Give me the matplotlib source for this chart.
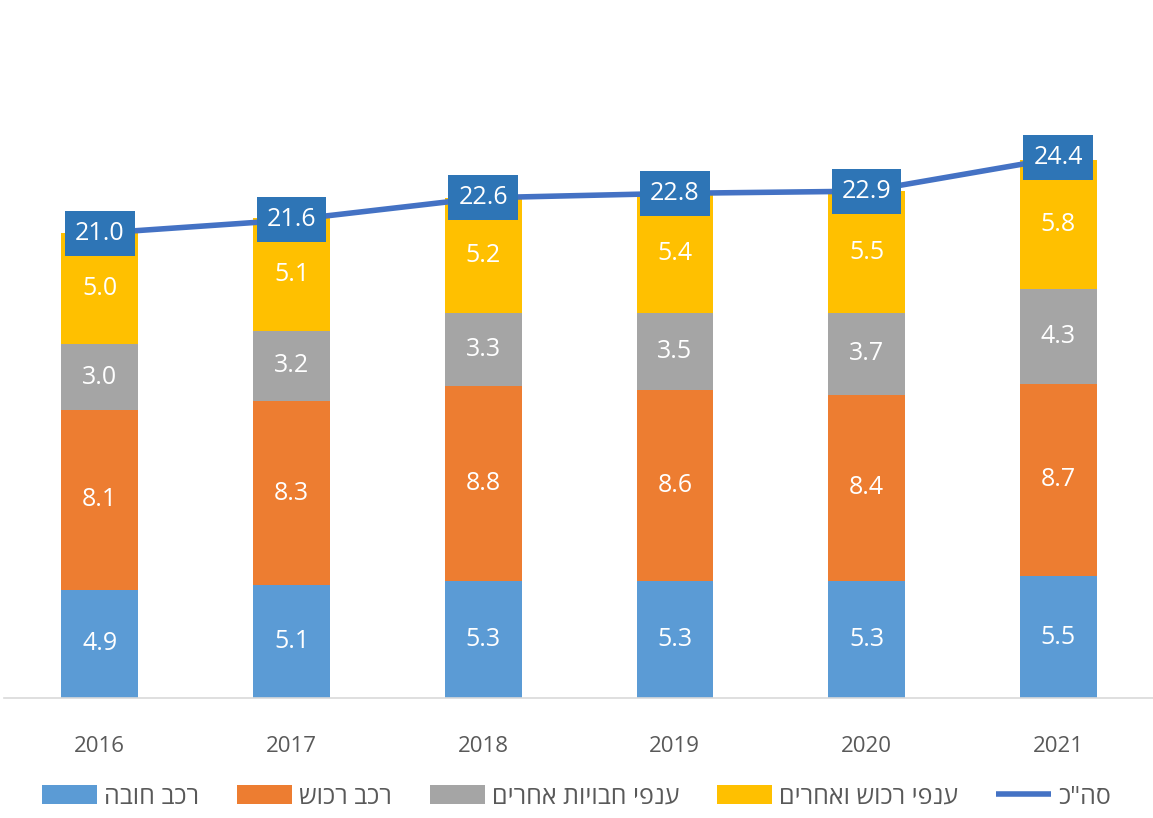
import matplotlib
matplotlib.use("Agg")
import matplotlib.pyplot as plt
import numpy as np

years = ["2016", "2017", "2018", "2019", "2020", "2021"]
mandatory = [4.9, 5.1, 5.3, 5.3, 5.3, 5.5]
property_auto = [8.1, 8.3, 8.8, 8.6, 8.4, 8.7]
other_liab = [3.0, 3.2, 3.3, 3.5, 3.7, 4.3]
other_prop = [5.0, 5.1, 5.2, 5.4, 5.5, 5.8]
totals = [21.0, 21.6, 22.6, 22.8, 22.9, 24.4]

names = ["רכב חובה", "רכב רכוש", "ענפי חבויות אחרים", "ענפי רכוש ואחרים", 'סה"כ']
colors = ["#5B9BD5", "#ED7D31", "#A5A5A5", "#FFC000"]
line_color = "#4472C4"
box_color = "#2E75B6"

def heb(s):
    return s[::-1]

plt.rcParams['font.family'] = ['Open Sans', 'DejaVu Sans']

fig = plt.figure(figsize=(11.53, 8.18), dpi=100)
ax = fig.add_axes([4/1153, 120/818, 1150/1153, (698-34)/818])

x = np.arange(len(years))
series = [mandatory, property_auto, other_liab, other_prop]
bottom = np.zeros(len(years))
handles = []
for vals, c, n in zip(series, colors, names[:4]):
    b = ax.bar(x, vals, 0.4, bottom=bottom, color=c, label=heb(n), zorder=2)
    handles.append(b)
    for xi, v, bt in zip(x, vals, bottom):
        ax.text(xi, bt + v/2, f"{v:.1f}", ha="center", va="center",
                color="white", fontsize=18, zorder=4)
    bottom = bottom + np.array(vals)

ln, = ax.plot(x, totals, color=line_color, lw=4, label=heb(names[4]), zorder=3,
              solid_capstyle="butt")
handles.append(ln)
for xi, t in zip(x, totals):
    ax.text(xi, t, f"{t:.1f}", ha="center", va="center", color="white",
            fontsize=18, zorder=5,
            bbox=dict(boxstyle="square,pad=0.4", fc=box_color, ec="none"))

ax.set_xlim(-0.5, 5.5)
ax.set_ylim(0, 30)
ax.set_xticks(x)
ax.set_xticklabels(years, fontsize=16, color="#595959")
ax.tick_params(axis="x", length=0, pad=27)
ax.set_yticks([])
for s in ["top", "left", "right"]:
    ax.spines[s].set_visible(False)
ax.spines["bottom"].set_color("#D9D9D9")
ax.spines["bottom"].set_linewidth(1.2)

leg = fig.legend(handles=handles, loc="center", bbox_to_anchor=(0.5, 1 - 797/818),
                 ncol=5, frameon=False, fontsize=18, handlelength=2.2,
                 handleheight=0.8, columnspacing=1.5, handletextpad=0.3)
for t in leg.get_texts():
    t.set_color("#595959")

fig.savefig("out.png", dpi=100)
